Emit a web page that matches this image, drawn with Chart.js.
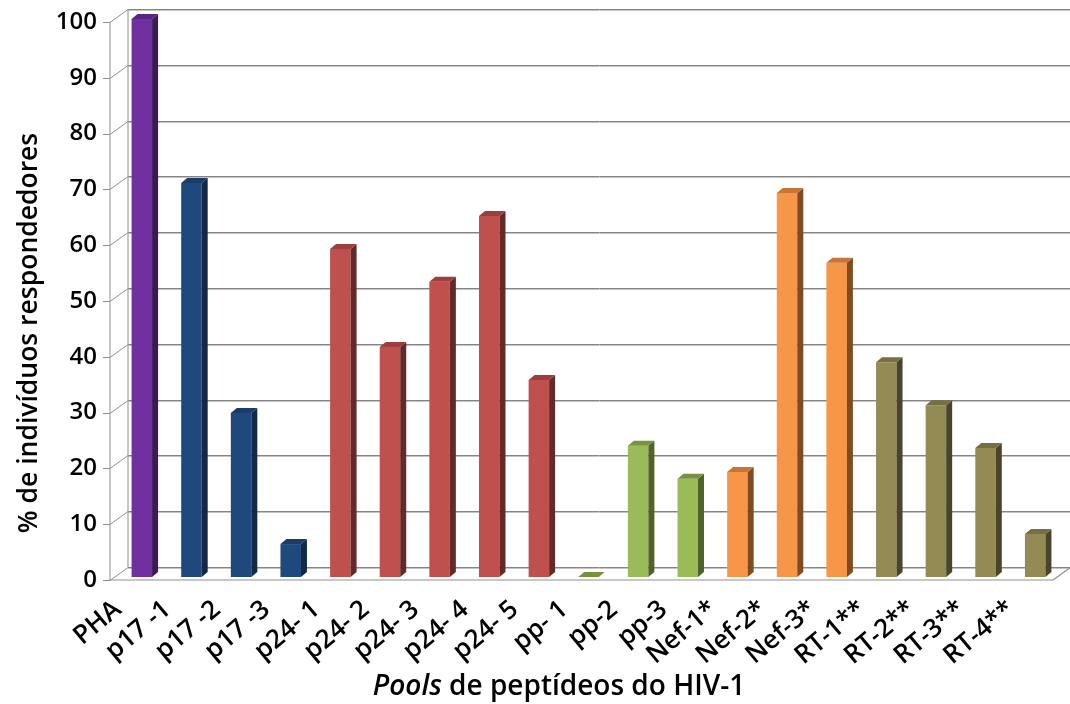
<!DOCTYPE html>
<html><head><meta charset="utf-8">
<script src="https://cdn.jsdelivr.net/npm/chart.js@4.4.0/dist/chart.umd.min.js"></script>
<style>html,body{margin:0;padding:0;background:#fff;} #wrap{width:1070px;height:704px;position:relative}</style>
</head><body><div id="wrap"><canvas id="c"></canvas></div>
<script>
// ---- data ----
const categories = ['PHA','p17 -1','p17 -2','p17 -3','p24- 1','p24- 2','p24- 3','p24- 4','p24- 5','pp- 1','pp-2','pp-3','Nef-1*','Nef-2*','Nef-3*','RT-1**','RT-2**','RT-3**','RT-4**'];
const values = [100,70.6,29.4,5.9,58.8,41.2,52.9,64.7,35.3,0,23.5,17.6,18.8,68.8,56.3,38.5,30.8,23.1,7.7];
const groups = ['PHA','p17','p17','p17','p24','p24','p24','p24','p24','pp','pp','pp','Nef','Nef','Nef','RT','RT','RT','RT'];
const yTicks = [0,10,20,30,40,50,60,70,80,90,100];
const yTitle = '% de indivíduos respondedores';
const xTitleItalic = 'Pools';
const xTitleRest = ' de peptídeos do HIV-1';

// ---- styles ----
const palette = {
  PHA: {front:'#7030A0', top:'#5A2683', side:'#3B1A56'},
  p17: {front:'#1F497D', top:'#1B3C66', side:'#142945'},
  p24: {front:'#C0504D', top:'#9C3E3C', side:'#632A29'},
  pp:  {front:'#9BBB59', top:'#77933C', side:'#4F6228'},
  Nef: {front:'#F79646', top:'#C87533', side:'#7F4B22'},
  RT:  {front:'#948A54', top:'#776E42', side:'#4A452A'}
};
const FONT = '"Open Sans", sans-serif';
const FX = -7, FY = 3, BX = 11, BY = -10;   // front / back wall plane offsets
const BDX = 6, BDY = 5;                      // bar depth

const wallPlugin = {
  id: 'wall3d',
  beforeDatasetsDraw(chart) {
    const {ctx, chartArea: a, scales: {y}} = chart;
    const fl = a.left + FX, fr = a.right + FX, bl = a.left + BX, br = a.right + BX;
    const y0 = y.getPixelForValue(yTicks[0]);
    const yMax = y.getPixelForValue(yTicks[yTicks.length - 1]);
    ctx.save();
    const line = (x1, y1, x2, y2, c, w) => {
      ctx.beginPath(); ctx.strokeStyle = c; ctx.lineWidth = w || 1;
      ctx.moveTo(x1, y1); ctx.lineTo(x2, y2); ctx.stroke();
    };
    yTicks.forEach(v => {
      const py = Math.round(y.getPixelForValue(v)) + 0.5;
      line(bl, py + BY + 1, br + 5, py + BY + 1, '#c4c4c4', 1);
      line(bl, py + BY, br + 5, py + BY, '#858585', 1);
      line(fl, py + FY, bl, py + BY, '#909090', 1);
      line(fl - 7, py + FY, fl, py + FY, '#909090', 1);
    });
    line(bl, yMax + BY, bl, y0 + BY, '#a0a0a0', 1.2);
    line(fl, yMax + FY, fl, y0 + FY, '#a0a0a0', 1.2);
    line(fl, y0 + FY, fr, y0 + FY, '#909090', 1.2);
    line(fr, y0 + FY, br, y0 + BY, '#909090', 1.2);
    ctx.restore();
  },
  afterDatasetsDraw(chart) {
    const {ctx} = chart;
    const meta = chart.getDatasetMeta(0);
    ctx.save();
    meta.data.forEach((bar, i) => {
      const p = bar.getProps(['x', 'y', 'base', 'width'], true);
      const l = p.x - p.width / 2, r = p.x + p.width / 2;
      const col = palette[groups[i]];
      ctx.fillStyle = col.side;
      ctx.beginPath();
      ctx.moveTo(r, p.y); ctx.lineTo(r + BDX, p.y - BDY); ctx.lineTo(r + BDX, p.base - BDY); ctx.lineTo(r, p.base);
      ctx.closePath(); ctx.fill();
      ctx.fillStyle = col.top;
      ctx.beginPath();
      ctx.moveTo(l, p.y); ctx.lineTo(l + BDX, p.y - BDY); ctx.lineTo(r + BDX, p.y - BDY); ctx.lineTo(r, p.y);
      ctx.closePath(); ctx.fill();
    });
    ctx.restore();
  },
  afterDraw(chart) {
    const {ctx} = chart;
    ctx.save();
    ctx.fillStyle = '#000';
    ctx.textBaseline = 'middle';
    ctx.textAlign = 'center';
    ctx.font = '600 26.5px ' + FONT;
    ctx.translate(29, 333);
    ctx.rotate(-Math.PI / 2);
    ctx.fillText(yTitle, 0, 0);
    ctx.restore();
    ctx.save();
    ctx.fillStyle = '#000';
    ctx.textBaseline = 'middle';
    ctx.textAlign = 'left';
    const fI = 'italic 600 28px ' + FONT, fR = '600 28px ' + FONT;
    ctx.font = fI; const wI = ctx.measureText(xTitleItalic).width;
    ctx.font = fR; const wR = ctx.measureText(xTitleRest).width;
    const x0 = 559 - (wI + wR) / 2;
    ctx.font = fI; ctx.fillText(xTitleItalic, x0, 687);
    ctx.font = fR; ctx.fillText(xTitleRest, x0 + wI, 687);
    ctx.restore();
  }
};

new Chart(document.getElementById('c'), {
  type: 'bar',
  data: {
    labels: categories,
    datasets: [{
      data: values,
      backgroundColor: groups.map(g => palette[g].front),
      borderWidth: 0,
      barPercentage: 0.413,
      categoryPercentage: 1.0
    }]
  },
  options: {
    responsive: true,
    maintainAspectRatio: false,
    animation: false,
    layout: {padding: {top: 19, right: 10, bottom: 0, left: 0}},
    plugins: {legend: {display: false}, tooltip: {enabled: false}, title: {display: false}},
    scales: {
      y: {
        min: 0, max: 100,
        ticks: {stepSize: 10, color: '#000', font: {family: FONT, size: 24, weight: '600'}, padding: 20, labelOffset: 3},
        grid: {display: false, drawTicks: false},
        border: {display: false},
        afterFit: s => { s.width = 117; s.paddingTop = 0; s.paddingBottom = 0; }
      },
      x: {
        ticks: {color: '#000', font: {family: FONT, size: 26, weight: '600'}, minRotation: 40, maxRotation: 40, padding: 17, labelOffset: -24, autoSkip: false},
        grid: {display: false, drawTicks: false},
        border: {display: false},
        afterFit: s => { s.height = 127; s.paddingLeft = 0; s.paddingRight = 0; }
      }
    }
  },
  plugins: [wallPlugin]
});
</script></body></html>
